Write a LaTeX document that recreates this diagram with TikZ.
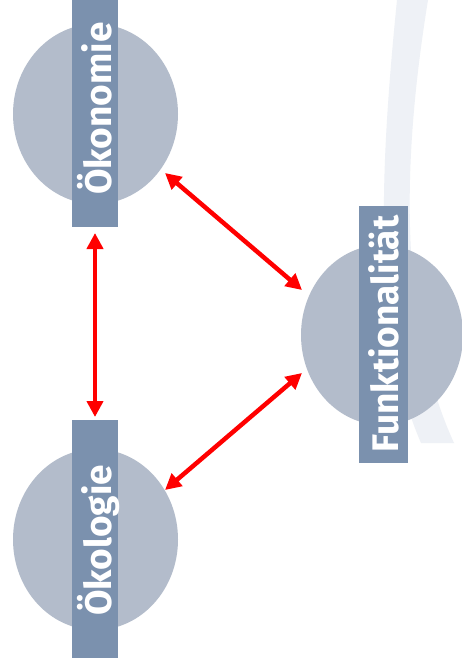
\documentclass[tikz,border=0pt]{standalone}
\usepackage{fontspec}
\setmainfont{Fira Sans}
\usetikzlibrary{shapes.geometric,arrows.meta}
\definecolor{discfill}{HTML}{B3BCCB}
\definecolor{barfill}{HTML}{7B91AE}
\definecolor{swoosh}{HTML}{EEF1F6}
\definecolor{linkred}{HTML}{FF0000}
\tikzset{
  disc/.style={ellipse, fill=discfill, draw=none, inner sep=0pt},
  band/.style={rectangle, fill=barfill, draw=none, inner sep=0pt},
  caption/.style={rotate=90, anchor=base, text=white, inner sep=0pt,
                  font=\fontsize{37}{40}\selectfont\bfseries},
  link/.style={draw=linkred, line width=4.5pt,
               {Triangle[length=16pt,width=16pt]}-{Triangle[length=16pt,width=16pt]}}
}
\begin{document}
\begin{tikzpicture}[x=1pt,y=-1pt]
\useasboundingbox (0,0) rectangle (462,672);
\fill[white] (0,0) rectangle (462,672);
% faint background swoosh
\fill[swoosh] (397,0) .. controls (380,170) and (372,330) .. (421,443)
  -- (454,443) .. controls (398,320) and (402,160) .. (428,0) -- cycle;
% discs
\node[disc, minimum width=165pt, minimum height=180pt] (oekoDisc) at (95.5,114) {};
\node[disc, minimum width=165pt, minimum height=181pt] (logDisc) at (95.5,539.5) {};
\node[disc, minimum width=162pt, minimum height=180pt] (funkDisc) at (382,335) {};
% label bands
\node[band, minimum width=46pt, minimum height=227pt] (oekoBand) at (95,113.5) {};
\node[band, minimum width=46pt, minimum height=238pt] (logBand) at (95,539) {};
\node[band, minimum width=49pt, minimum height=257pt] (funkBand) at (383.5,334.5) {};
% captions
\node[caption] (oekoText) at (111,108.5) {Ökonomie};
\node[caption] (logText) at (111,540.5) {Ökologie};
\node[caption] (funkText) at (398,334) {Funktionalität};
% arrow end points
\coordinate (oekoLow) at (95,233);
\coordinate (logHigh) at (95,417);
\coordinate (oekoSide) at (165,173);
\coordinate (logSide) at (165,490);
\coordinate (funkUp) at (302,290);
\coordinate (funkDown) at (302,373);
% connectors
\draw[link] (oekoLow) -- (logHigh);
\draw[link] (oekoSide) -- (funkUp);
\draw[link] (logSide) -- (funkDown);
\end{tikzpicture}
\end{document}
